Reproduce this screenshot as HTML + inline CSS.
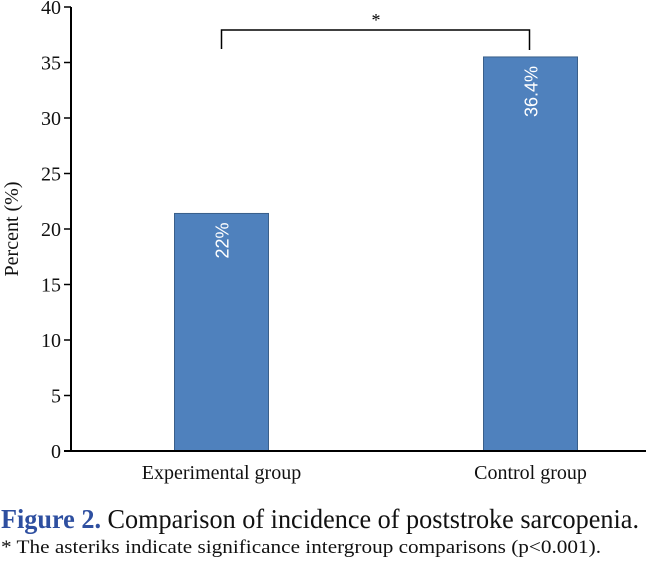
<!DOCTYPE html>
<html><head><meta charset="utf-8"><style>
body{margin:0;background:#fff;}
svg{display:block;}
text{font-family:"Liberation Serif",serif;}
</style></head><body>
<svg width="646" height="561">
<g id="chart"></g>
</svg>
<script>
const categories = ["Experimental group", "Control group"];
const values = [21.4, 35.5];
const valueLabels = ["22%", "36.4%"];
const yTicks = [0, 5, 10, 15, 20, 25, 30, 35, 40];

const NS = "http://www.w3.org/2000/svg";
const g = document.getElementById("chart");
const y0 = 451, yTop = 7, yMax = 40;
const xAxis = 71, xRight = 646;
const barW = 94;
const centers = [221.5, 530.5];
function y(v){ return y0 - (v / yMax) * (y0 - yTop); }
function mk(tag, attrs, text){
  const e = document.createElementNS(NS, tag);
  for (const k in attrs) e.setAttribute(k, attrs[k]);
  if (text !== undefined) e.textContent = text;
  g.appendChild(e);
  return e;
}

values.forEach((v, i) => {
  const r = mk("rect", {x: centers[i] - barW/2, y: y(v), width: barW, height: y0 - y(v), fill: "#4f81bd", stroke: "#3a5f8a", "stroke-width": 1});
  
  
  const t = mk("text", {transform: `translate(${centers[i] + 7},${y(v) + 9}) rotate(-90)`, "text-anchor": "end", fill: "#fff", "font-size": 18, style: "font-family:'Liberation Sans',sans-serif"}, valueLabels[i]);
  
  
  const c = mk("text", {x: centers[i], y: 479, "text-anchor": "middle", "font-size": 20, fill: "#111"}, categories[i]);
  
  
});

const ya = mk("line", {x1: xAxis, y1: yTop, x2: xAxis, y2: y0, stroke: "#000", "stroke-width": 2});


const xa = mk("line", {x1: xAxis - 7, y1: y0, x2: xRight, y2: y0, stroke: "#000", "stroke-width": 2});


yTicks.forEach(v => {
  const tk = mk("line", {x1: xAxis - 7, y1: y(v), x2: xAxis, y2: y(v), stroke: "#000", "stroke-width": 1.5});
  
  
  const tl = mk("text", {x: xAxis - 10, y: y(v) + 7, "text-anchor": "end", "font-size": 20, fill: "#111"}, String(v));
  
  
});
const yt = mk("text", {transform: "translate(18,229) rotate(-90)", "text-anchor": "middle", "font-size": 20, fill: "#111"}, "Percent (%)");



const br = mk("polyline", {points: `${centers[0]},49 ${centers[0]},30 ${centers[1] - 1},30 ${centers[1] - 1},50`, fill: "none", stroke: "#000", "stroke-width": 1.5});


const st = mk("text", {x: 376, y: 26, "text-anchor": "middle", "font-size": 18}, "*");



const cap = mk("text", {x: 1, y: 528, "font-size": 27, fill: "#111", textLength: 638, lengthAdjust: "spacingAndGlyphs"});


const b = document.createElementNS(NS, "tspan");
b.setAttribute("fill", "#2e4fa0"); b.setAttribute("font-weight", "bold");
b.textContent = "Figure 2.";
cap.appendChild(b);
cap.appendChild(document.createTextNode(" Comparison of incidence of poststroke sarcopenia."));
const fn = mk("text", {x: 1, y: 553, "font-size": 19, fill: "#111", textLength: 600, lengthAdjust: "spacingAndGlyphs"}, "* The asteriks indicate significance intergroup comparisons (p<0.001).");


</script>
</body></html>
